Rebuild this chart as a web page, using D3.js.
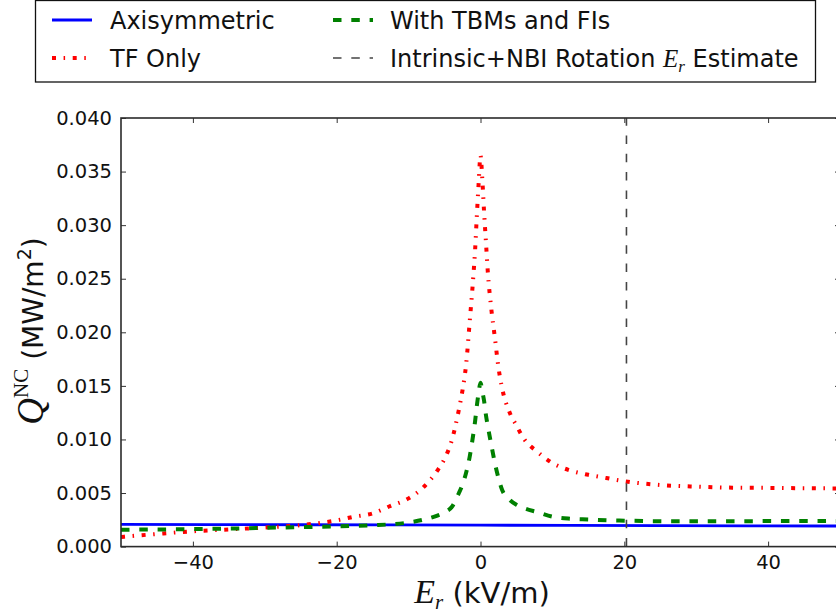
<!DOCTYPE html>
<html><head><meta charset="utf-8">
<script src="https://cdn.jsdelivr.net/npm/d3@7"></script>
<style>body{margin:0;background:#fff}svg{display:block}</style>
</head><body><svg id="c" width="836" height="616"></svg>
<script>
// ---- data ----
const erGrid = [-50,-45,-40,-35,-30,-25,-20,-17.5,-15,-12.5,-10,-8,-6,-5,-4,-3,-2.5,-2,-1.5,-1,-0.75,-0.5,-0.25,0,0.25,0.5,0.75,1,1.5,2,2.5,3,4,5,6,8,10,12.5,15,17.5,20,25,30,35,40,45,50];
const tfOnly = [0.0009,0.00118,0.00143,0.0016,0.00178,0.0020,0.00245,0.0028,0.0031,0.0038,0.0045,0.0055,0.0071,0.0082,0.0099,0.0128,0.0146,0.0170,0.0210,0.0252,0.0277,0.0310,0.0340,0.0365,0.0343,0.0312,0.0285,0.0258,0.0222,0.0195,0.0167,0.0148,0.0126,0.0113,0.0101,0.0088,0.0078,0.0071,0.0067,0.0064,0.0061,0.00575,0.0056,0.0055,0.00548,0.00545,0.00543];
const withTBM = [0.00158,0.0016,0.00163,0.00168,0.00175,0.00182,0.00188,0.00193,0.0020,0.00208,0.00225,0.0025,0.0029,0.0032,0.0037,0.0050,0.0058,0.0069,0.0084,0.0105,0.0117,0.0132,0.0144,0.0153,0.0145,0.0136,0.0123,0.0113,0.0095,0.0078,0.0064,0.0053,0.0044,0.0039,0.0036,0.0032,0.0028,0.0026,0.00253,0.00246,0.00242,0.00237,0.00236,0.00237,0.00238,0.00239,0.0024];
const axisymE = [-50,-25,0,25,50];
const axisymQ = [0.00208,0.00204,0.0020,0.00196,0.00192];
const erEstimate = 20.3;
const xTicks = [-40,-20,0,20,40];
const yTicks = [0,0.005,0.010,0.015,0.020,0.025,0.030,0.035,0.040];
const legendNames = ["Axisymmetric","TF Only","With TBMs and FIs","Intrinsic+NBI Rotation"];

// ---- layout ----
const L = 121, R = 840, T = 118, B = 546.6;
const svg = d3.select("#c");
const x = d3.scaleLinear().domain([-50,50]).range([L,R]);
const y = d3.scaleLinear().domain([0,0.04]).range([B,T]);
const SANS = "'DejaVu Sans', sans-serif";
const SERIF = "'Liberation Serif', 'DejaVu Serif', serif";

svg.append("defs").append("clipPath").attr("id","clip")
  .append("rect").attr("x",L).attr("y",T).attr("width",R-L).attr("height",B-T);

const plot = svg.append("g").attr("clip-path","url(#clip)");
const line = d3.line().x(d=>x(d[0])).y(d=>y(d[1])).curve(d3.curveMonotoneX);

plot.append("path").datum(axisymE.map((e,i)=>[e,axisymQ[i]]))
  .attr("d",line).attr("fill","none").attr("stroke","#0000ff").attr("stroke-width",2.8);
plot.append("path").datum(erGrid.map((e,i)=>[e,tfOnly[i]]))
  .attr("d",line).attr("fill","none").attr("stroke","#ff0000").attr("stroke-width",4)
  .attr("stroke-dasharray","4,7.6,1.5,7.6");
plot.append("path").datum(erGrid.map((e,i)=>[e,withTBM[i]]))
  .attr("d",line).attr("fill","none").attr("stroke","#008000").attr("stroke-width",4)
  .attr("stroke-dasharray","8.5,9.8");
plot.append("line").attr("x1",x(erEstimate)).attr("x2",x(erEstimate))
  .attr("y1",B).attr("y2",T).attr("stroke","#444").attr("stroke-width",1.6)
  .attr("stroke-dasharray","8.5,9.8");

// ---- axes ----
const fmtX = d => d<0 ? "\u2212"+Math.abs(d) : String(d);
function styleAxis(g){
  g.select(".domain").remove();
  g.selectAll(".tick line").attr("stroke","#333").attr("stroke-width",1);
  g.selectAll(".tick text").attr("fill","#111").style("font-family",SANS).style("font-size","19.5px");
}
svg.append("g").attr("transform",`translate(0,${B})`)
  .call(d3.axisBottom(x).tickValues(xTicks).tickSizeInner(-5).tickSizeOuter(0).tickPadding(9).tickFormat(fmtX))
  .call(styleAxis);
svg.append("g").attr("transform",`translate(0,${T})`)
  .call(d3.axisTop(x).tickValues(xTicks).tickSizeInner(-5).tickSizeOuter(0).tickFormat(""))
  .call(styleAxis);
svg.append("g").attr("transform",`translate(${L},0)`)
  .call(d3.axisLeft(y).tickValues(yTicks).tickSizeInner(-5).tickSizeOuter(0).tickPadding(9).tickFormat(d3.format(".3f")))
  .call(styleAxis);
svg.append("g").attr("transform",`translate(${R},0)`)
  .call(d3.axisRight(y).tickValues(yTicks).tickSizeInner(-5).tickSizeOuter(0).tickFormat(""))
  .call(styleAxis);
svg.append("rect").attr("x",L).attr("y",T).attr("width",R-L).attr("height",B-T)
  .attr("fill","none").attr("stroke","#2b2b2b").attr("stroke-width",1.6);

// ---- axis labels ----
const xl = svg.append("text").attr("x",482).attr("y",603).attr("text-anchor","middle").attr("fill","#111");
xl.append("tspan").text("E").style("font-family",SERIF).style("font-style","italic").style("font-size","34px");
xl.append("tspan").text("r").attr("dy",6).style("font-family",SERIF).style("font-style","italic").style("font-size","21px");
xl.append("tspan").text(" (kV/m)").attr("dy",-6).style("font-family",SANS).style("font-size","29px");

const yl = svg.append("text").attr("transform","translate(43,331) rotate(-90)").attr("text-anchor","middle").attr("fill","#111");
yl.append("tspan").text("Q").style("font-family",SERIF).style("font-style","italic").style("font-size","37px");
yl.append("tspan").text("NC").attr("dy",-15).style("font-family",SERIF).style("font-size","21px");
yl.append("tspan").text(" (MW/m").attr("dy",15).style("font-family",SANS).style("font-size","28px");
yl.append("tspan").text("2").attr("dy",-12).style("font-family",SANS).style("font-size","19px");
yl.append("tspan").text(")").attr("dy",12).style("font-family",SANS).style("font-size","28px");

// ---- legend ----
const lg = svg.append("g");
lg.append("rect").attr("x",35.5).attr("y",0.5).attr("width",780).attr("height",81.5)
  .attr("fill","#fff").attr("stroke","#111").attr("stroke-width",1.3);
const legItems = [
  {col:0,row:0,stroke:"#0000ff",w:2.8,dash:null},
  {col:0,row:1,stroke:"#ff0000",w:4,dash:"4,7.6,1.5,7.6"},
  {col:1,row:0,stroke:"#008000",w:4,dash:"8.5,9.8"},
  {col:1,row:1,stroke:"#444",w:1.6,dash:"8.5,9.8"}
];
const colSample = [52,333], colText = [110,390], rowY = [20,58];
legItems.forEach((it,i)=>{
  const sx = colSample[it.col], ry = rowY[it.row];
  const ln = lg.append("line").attr("x1",sx).attr("x2",sx+40).attr("y1",ry).attr("y2",ry)
    .attr("stroke",it.stroke).attr("stroke-width",it.w);
  if(it.dash) ln.attr("stroke-dasharray",it.dash);
  const t = lg.append("text").attr("x",colText[it.col]).attr("y",ry).attr("dy","0.36em")
    .attr("fill","#111").style("font-family",SANS).style("font-size","24px");
  t.append("tspan").text(legendNames[i]);
  if(i===3){
    t.append("tspan").text(" ");
    t.append("tspan").text("E").style("font-family",SERIF).style("font-style","italic").style("font-size","25px");
    t.append("tspan").text("r").attr("dy",5).style("font-family",SERIF).style("font-style","italic").style("font-size","17px");
    t.append("tspan").text(" Estimate").attr("dy",-5);
  }
});
</script></body></html>
